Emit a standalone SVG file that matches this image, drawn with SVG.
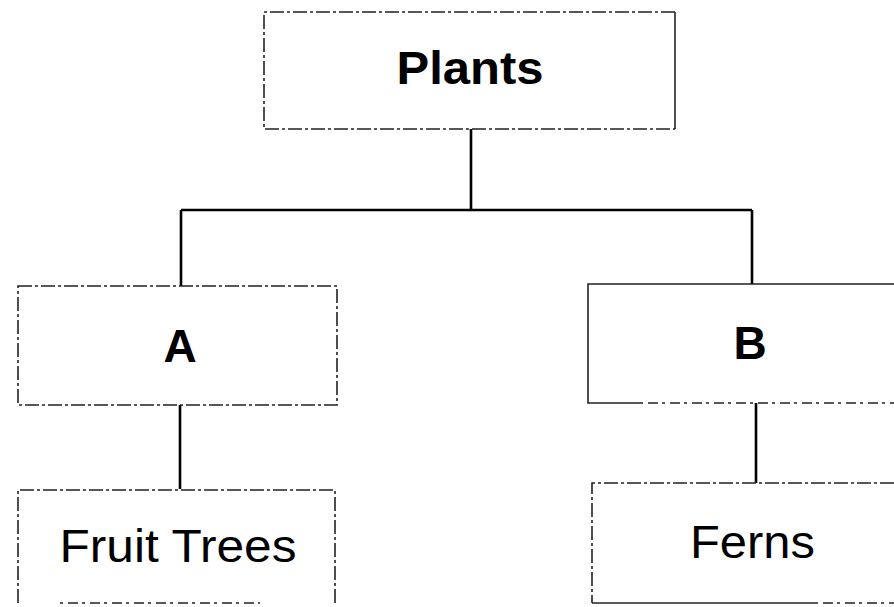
<svg xmlns="http://www.w3.org/2000/svg" width="894" height="607" viewBox="0 0 894 607">
<style>
.box{fill:none;stroke:#222;stroke-width:1.6}
.dash{stroke-dasharray:14 3 3 3}
.dot{stroke-dasharray:3 5 10 4}
.conn{stroke:#000;stroke-width:2.6;fill:none}
.b{font-family:"Liberation Sans",Arial,sans-serif;font-weight:bold;font-size:46px;fill:#000}
.r{font-family:"Liberation Sans",Arial,sans-serif;font-size:46px;fill:#000}
</style>
<rect width="894" height="607" fill="#fff"/>
<g id="connectors">
<path class="conn" d="M471,129 V210 M181,210 H752 M181,210 V286 M752,210 V284 M180,405 V489 M756,403 V483"/>
</g>
<g id="plants">
<path class="box dash" d="M675,12 H264 V129 H675"/>
<path class="box" d="M675,12 V129"/>
<text class="b" x="470" y="84" text-anchor="middle" textLength="147" lengthAdjust="spacingAndGlyphs">Plants</text>
</g>
<g id="a">
<path class="box dash" d="M18,286 H337 V405 H18 Z"/>
<text class="b" x="180" y="362" text-anchor="middle">A</text>
</g>
<g id="b">
<path class="box" d="M894,284 H588 V403 H640"/>
<path class="box dot" d="M640,403 H894"/>
<text class="b" x="750" y="359" text-anchor="middle">B</text>
</g>
<g id="fruit-trees">
<path class="box dash" d="M335,603 V490 H18 V603"/>
<path class="box dot" d="M60,603 H260"/>
<text class="r" x="178" y="562" text-anchor="middle" textLength="237" lengthAdjust="spacingAndGlyphs">Fruit Trees</text>
</g>
<g id="ferns">
<path class="box dash" d="M894,483 H592 V603"/>
<path class="box" d="M592,603 H815"/>
<path class="box dot" d="M815,603 H894"/>
<text class="r" x="690" y="558" textLength="125" lengthAdjust="spacingAndGlyphs">Ferns</text>
</g>
</svg>
